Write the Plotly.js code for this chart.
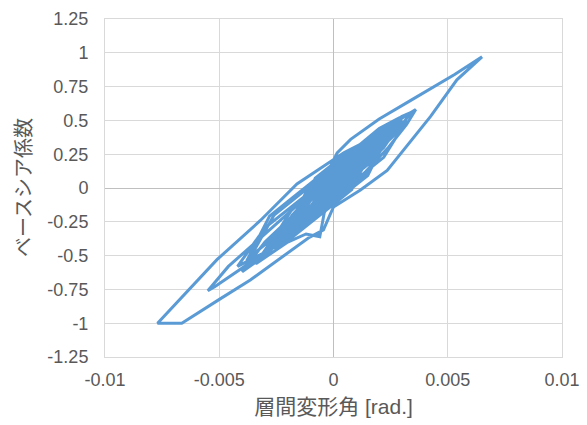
<!DOCTYPE html>
<html>
<head>
<meta charset="utf-8">
<script src="https://cdn.plot.ly/plotly-3.0.1.min.js"></script>
<style>html,body{margin:0;padding:0;background:#fff;}#chart{width:587px;height:425px;}</style>
</head>
<body>
<div id="chart"></div>
<script>
// Story drift angle [rad.] (x) and base shear coefficient (y)
const driftAngle = [
  0.0000, 0.0005, 0.0009, 0.0005, 0.0000, -0.0005, -0.0008, -0.0003, 0.0003, 0.0010,
  0.0014, 0.0009, 0.0002, -0.0005, -0.0012, -0.0015, -0.0009, 0.0000, 0.0010, 0.0019,
  0.0022, 0.0016, 0.0008, 0.0000, -0.0010, -0.0018, -0.0022, -0.0015, -0.0006, 0.0004,
  0.0015, 0.0026, 0.0032, 0.0036, 0.0032, 0.0024, 0.0014, 0.0004, -0.0006, -0.0016,
  -0.0026, -0.0030, -0.0023, -0.0012, 0.0000, 0.0012, 0.0022, 0.0027, 0.0020, 0.0010,
  0.0000, -0.0010, -0.0020, -0.0032, -0.0044, -0.0052, -0.0055, -0.0046, -0.0034, -0.0022,
  -0.0010, 0.0000, 0.0010, 0.0018, 0.0012, 0.0004, -0.0006, -0.0016, -0.0024, -0.0016,
  -0.0006, 0.00016, 0.00075, 0.0020, 0.0034, 0.0053, 0.0065, 0.0054, 0.00425, 0.00235,
  0.00118, 0.0000, -0.00013, -0.00044, -0.0011, -0.0024, -0.00364, -0.00496, -0.00664, -0.0077,
  -0.0051, -0.0032, -0.0016, 0.00045, 0.0016, 0.0010, 0.0000, -0.0010, -0.0020, -0.0026,
  -0.0018, -0.0008, 0.0004, 0.0016, 0.0026, 0.0030, 0.0022, 0.0012, 0.0002, -0.0004,
  -0.0006, -0.0012, -0.0020, -0.0034, -0.0026, -0.0014, -0.0002, 0.0008, 0.0019, 0.0024,
  0.0016, 0.0006, -0.0004, -0.0014, -0.0020, -0.0012, 0.0000, 0.0010, 0.0015, 0.0008,
  0.0000, -0.0008, -0.0012, -0.0005, 0.0004, 0.0009, 0.0003, -0.0004, -0.0007, 0.0000,
  0.0004, 0.0001,
  0.0010, 0.0020, 0.0010, 0.0000, -0.0010, -0.0020, -0.0010, 0.0000, 0.0010, 0.0025,
  0.0015, 0.0005, -0.0005, -0.0015, -0.0028, -0.0018, -0.0008, 0.0004, 0.0012, 0.0004,
  -0.0006, -0.0016, -0.0026, -0.0036, -0.0026, -0.0014, -0.0002, 0.0008, 0.0016, 0.0008,
  0.0000, -0.0010, -0.0020, -0.0030, -0.0042, -0.0030, -0.0018, -0.0006, 0.0006, 0.0018,
  0.0028, 0.0018, 0.0008, -0.0002, -0.0010, -0.0016, -0.0008, 0.0000, 0.0008, 0.0014,
  0.0006, -0.0004, -0.0012, -0.0022, -0.0012, 0.0000, 0.0012, 0.0022, 0.0014, 0.0004,
  -0.0006, -0.0016, -0.0008, 0.0002, 0.0010, 0.0018, 0.0010, 0.0000, -0.0010, -0.0020,
  -0.0030, -0.0038, -0.0028, -0.0016, -0.0004, 0.0004, 0.0009, 0.0002, -0.0008, -0.0018,
  -0.0024, -0.0014, -0.0002, 0.0010, 0.0020, 0.0032, 0.0022, 0.0012, 0.0002, -0.0006,
  -0.0010, -0.0004, 0.0004, 0.0008, 0.0002, -0.0004, -0.0006, 0.0000,
  0.0010, 0.0020, 0.0029, 0.0020, 0.0010, 0.0000, -0.0008, 0.0000, 0.0010, 0.0020,
  0.0030, 0.0034, 0.0026, 0.0016, 0.0006, -0.0004, -0.0012, 0.0000, 0.0012, 0.0024,
  0.0026, 0.0018, 0.0008, 0.0000, -0.0010, -0.0020, -0.0030, -0.0040, -0.0030, -0.0020,
  -0.0010, 0.0000
];
const baseShear = [
  0.02, 0.15, 0.22, 0.08, -0.02, -0.10, -0.12, -0.02, 0.12, 0.26,
  0.30, 0.12, -0.02, -0.14, -0.22, -0.24, -0.06, 0.10, 0.26, 0.36,
  0.40, 0.20, 0.06, -0.06, -0.20, -0.30, -0.36, -0.18, -0.02, 0.18,
  0.34, 0.47, 0.54, 0.58, 0.47, 0.30, 0.12, -0.04, -0.18, -0.32,
  -0.44, -0.48, -0.30, -0.12, 0.06, 0.24, 0.38, 0.44, 0.26, 0.10,
  -0.06, -0.20, -0.34, -0.50, -0.64, -0.73, -0.76, -0.58, -0.40, -0.22,
  -0.04, 0.12, 0.26, 0.36, 0.20, 0.06, -0.10, -0.26, -0.36, -0.18,
  0.00, 0.26, 0.36, 0.51, 0.65, 0.84, 0.97, 0.80, 0.53, 0.13,
  -0.015, -0.14, -0.19, -0.31, -0.37, -0.53, -0.68, -0.82, -1.00, -1.00,
  -0.53, -0.24, 0.03, 0.26, 0.36, 0.18, 0.00, -0.18, -0.33, -0.40,
  -0.20, -0.02, 0.16, 0.32, 0.46, 0.50, 0.30, 0.14, -0.02, -0.18,
  -0.36, -0.34, -0.40, -0.56, -0.36, -0.16, 0.04, 0.22, 0.38, 0.42,
  0.22, 0.06, -0.08, -0.24, -0.30, -0.10, 0.10, 0.24, 0.28, 0.10,
  -0.02, -0.14, -0.18, -0.02, 0.14, 0.20, 0.04, -0.06, -0.08, 0.04,
  0.10, 0.03,
  0.285, 0.36, 0.065, -0.07, -0.205, -0.30, 0.035, 0.17, 0.305, 0.44,
  0.093, -0.042, -0.178, -0.313, -0.42, -0.153, -0.018, 0.144, 0.23, 0.034,
  -0.101, -0.236, -0.371, -0.50, -0.20, -0.04, 0.12, 0.26, 0.30, -0.012,
  -0.12, -0.255, -0.39, -0.475, -0.58, -0.295, -0.133, 0.029, 0.19, 0.35,
  0.46, 0.213, 0.078, -0.057, -0.165, -0.25, 0.072, 0.18, 0.288, 0.34,
  -0.009, -0.144, -0.252, -0.36, -0.102, 0.06, 0.222, 0.37, 0.089, -0.046,
  -0.181, -0.32, 0.022, 0.157, 0.265, 0.31, 0.125, -0.01, -0.145, -0.28,
  -0.415, -0.54, -0.208, -0.046, 0.116, 0.224, 0.26, -0.023, -0.158, -0.293,
  -0.37, -0.109, 0.053, 0.215, 0.35, 0.50, 0.227, 0.092, -0.043, -0.151,
  -0.19, 0.066, 0.174, 0.22, 0.027, -0.084, -0.10, 0.05,
  0.30, 0.44, 0.52, 0.33, 0.17, 0.02, -0.10, 0.12, 0.27, 0.42,
  0.53, 0.56, 0.38, 0.22, 0.06, -0.08, -0.20, 0.08, 0.30, 0.47,
  0.49, 0.28, 0.12, 0.00, -0.18, -0.34, -0.50, -0.62, -0.40, -0.24,
  -0.08, 0.06
];
const xTickVals = [-0.01, -0.005, 0, 0.005, 0.01];
const xTickText = ["-0.01", "-0.005", "0", "0.005", "0.01"];
const yTickVals = [-1.25, -1, -0.75, -0.5, -0.25, 0, 0.25, 0.5, 0.75, 1, 1.25];
const yTickText = ["-1.25", "-1", "-0.75", "-0.5", "-0.25", "0", "0.25", "0.5", "0.75", "1", "1.25"];
const xTitle = "層間変形角 [rad.]";
const yTitle = "ベースシア係数";

const fontFam = "Liberation Sans, Arial, Noto Sans CJK JP, sans-serif";
const trace = {
  x: driftAngle, y: baseShear, type: "scatter", mode: "lines",
  line: {color: "#5B9BD5", width: 3, shape: "linear"},
  hoverinfo: "skip", showlegend: false
};
const axisCommon = {
  showgrid: true, gridcolor: "#D9D9D9", gridwidth: 1,
  zeroline: true, zerolinecolor: "#BFBFBF", zerolinewidth: 1,
  showline: true, mirror: true, linecolor: "#D9D9D9", linewidth: 1,
  ticks: "", tickfont: {family: fontFam, size: 18, color: "#595959"},
  tickmode: "array", fixedrange: true
};
const layout = {
  width: 587, height: 425,
  margin: {l: 105, r: 25, t: 19, b: 68, pad: 0},
  paper_bgcolor: "#ffffff", plot_bgcolor: "#ffffff",
  xaxis: Object.assign({}, axisCommon, {
    range: [-0.01, 0.01], tickvals: xTickVals, ticktext: xTickText,
    ticklabelstandoff: 6,
    title: {text: xTitle, font: {family: fontFam, size: 21, color: "#595959"}, standoff: 10}
  }),
  yaxis: Object.assign({}, axisCommon, {
    range: [-1.25, 1.25], tickvals: yTickVals, ticktext: yTickText,
    ticklabelstandoff: 12
  }),
  annotations: [{
    text: yTitle, textangle: -90, showarrow: false,
    xref: "paper", yref: "paper", x: -0.177, y: 0.5,
    xanchor: "center", yanchor: "middle",
    font: {family: fontFam, size: 20, color: "#595959"}
  }]
};
Plotly.newPlot("chart", [trace], layout, {displayModeBar: false, staticPlot: true});
</script>
</body>
</html>
